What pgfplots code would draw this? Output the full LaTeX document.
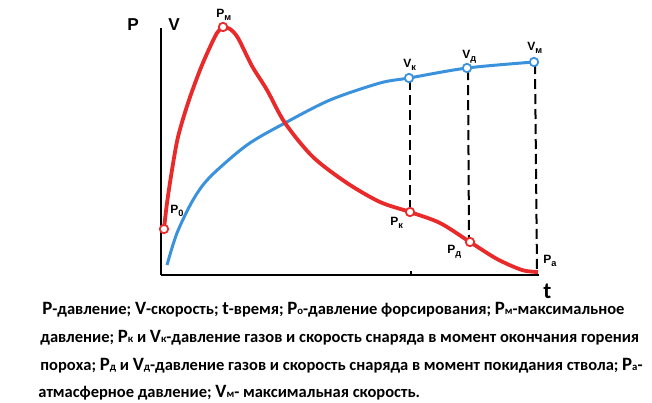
\documentclass[border=0pt]{standalone}
\usepackage{pgfplots}
\pgfplotsset{compat=1.18}
\usepackage{fontspec}
\setmainfont{Carlito}
\newfontfamily\lab{Liberation Sans}
\definecolor{pred}{RGB}{232,42,42}
\definecolor{vblue}{RGB}{58,146,220}
\newcommand{\BP}[1]{{\fontsize{9.4}{11}\selectfont #1}}
\newcommand{\sm}[1]{{\fontsize{5.4}{6}\selectfont #1}}
\newcommand{\lbl}[2]{{\lab\bfseries\fontsize{6}{7}\selectfont #1\raisebox{-1.6pt}{\fontsize{4.6}{5}\selectfont #2}}}
\begin{document}
\begin{tikzpicture}
\begin{axis}[
  scale only axis, width=326pt, height=201.5pt,
  xmin=0, xmax=652, ymin=0, ymax=403, y dir=reverse,
  hide axis, clip=false]
\path (axis cs:0,0) rectangle (axis cs:652,403);
% axes
\addplot[black, line width=1.3pt] coordinates {(161,28) (161,275)};
\addplot[black, line width=0.9pt] coordinates {(161,275) (539,275)};
\addplot[black, line width=0.6pt] coordinates {(411,271) (411,275)};
% dashed verticals
\addplot[black, line width=1pt, dash pattern=on 5pt off 2.5pt] coordinates {(410,80) (410,210)};
\addplot[black, line width=1pt, dash pattern=on 5pt off 2.5pt] coordinates {(468,70) (469,240)};
\addplot[black, line width=1pt, dash pattern=on 5pt off 2.5pt] coordinates {(535,64) (537,272)};
% velocity
\addplot[vblue, line width=1.5pt, smooth] coordinates {
 (167,265) (177,233) (193,200) (210,177) (247,145) (285,123) (330,100)
 (380,83) (409,78) (467,68) (534,62)};
% pressure
\addplot[pred, line width=1.9pt, smooth] coordinates {
 (164,229) (167,203) (172,170) (178,137) (188,103) (200,70) (210,47) (217,33) (223,27)
 (230,29) (238,38) (252,66) (267,90) (285,123) (313,157) (347,183) (380,202) (410,212)
 (440,223) (470,242) (497,259) (522,270) (538,272)};
% markers
\addplot[only marks, mark=*, mark size=2.1pt, mark options={fill=white, draw=pred, line width=0.9pt}]
 coordinates {(164,229) (223,27) (410,212) (470,242)};
\addplot[only marks, mark=*, mark size=2.1pt, mark options={fill=white, draw=vblue, line width=0.9pt}]
 coordinates {(409,78) (467,68) (534,62)};
% labels
\node[anchor=base west, inner sep=0] at (axis cs:127,30) {\lab\bfseries\fontsize{8.6}{9}\selectfont P};
\node[anchor=base west, inner sep=0] at (axis cs:168,30) {\lab\bfseries\fontsize{8.6}{9}\selectfont V};
\node[anchor=base west, inner sep=0] at (axis cs:216,17) {\lbl{P}{м}};
\node[anchor=base west, inner sep=0] at (axis cs:170,213) {\lbl{P}{0}};
\node[anchor=base west, inner sep=0] at (axis cs:403,67) {\lbl{V}{к}};
\node[anchor=base west, inner sep=0] at (axis cs:462,58) {\lbl{V}{д}};
\node[anchor=base west, inner sep=0] at (axis cs:527,50) {\lbl{V}{м}};
\node[anchor=base west, inner sep=0] at (axis cs:390,225) {\lbl{P}{к}};
\node[anchor=base west, inner sep=0] at (axis cs:447,253) {\lbl{P}{д}};
\node[anchor=base west, inner sep=0] at (axis cs:543,263) {\lbl{P}{а}};
\node[anchor=base west, inner sep=0] at (axis cs:543,298) {\bfseries\fontsize{11.5}{12}\selectfont t};
% caption
\begin{scope}[every node/.style={anchor=base west, inner sep=0, font=\bfseries\fontsize{8.25}{10}\selectfont}]
\node at (axis cs:42,314) {\BP{P}-давление; \BP{V}-скорость; \BP{t}-время; \BP{P}\sm{о}-давление форсирования; \BP{P}\sm{м}-максимальное};
\node at (axis cs:40,342) {давление; \BP{P}\sm{к} и \BP{V}\sm{к}-давление газов и скорость снаряда в момент окончания горения};
\node at (axis cs:40,370) {пороха; \BP{P}\sm{д} и \BP{V}\sm{д}-давление газов и скорость снаряда в момент покидания ствола; \BP{P}\sm{а}-};
\node at (axis cs:38,397) {атмасферное давление; \BP{V}\sm{м}- максимальная скорость.};
\end{scope}
\end{axis}
\end{tikzpicture}
\end{document}
